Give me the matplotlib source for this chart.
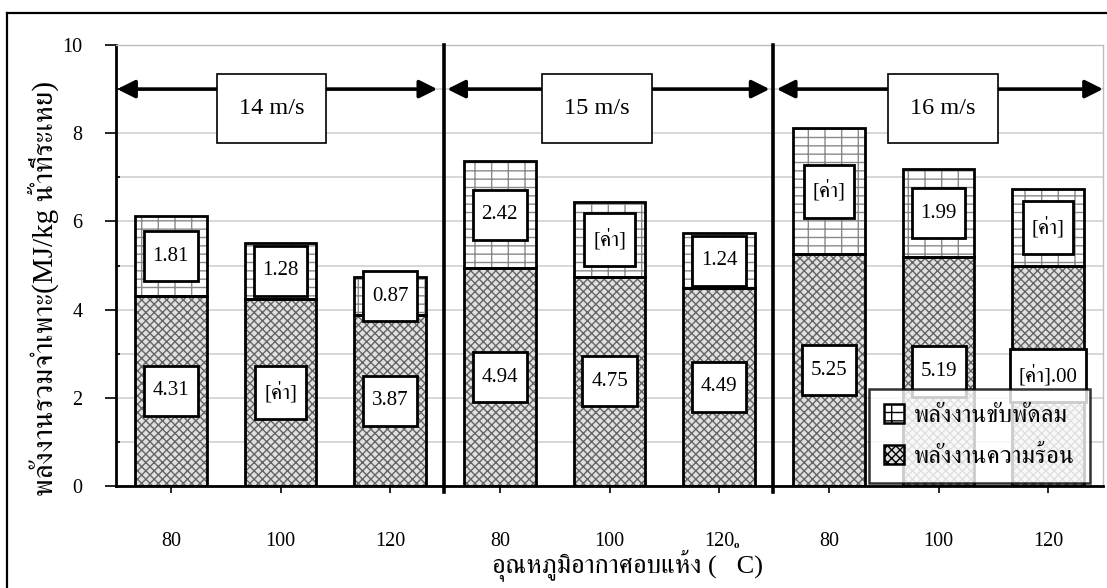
import matplotlib
matplotlib.use("Agg")
import matplotlib.pyplot as plt
from matplotlib.path import Path
from matplotlib.lines import Line2D
from matplotlib.patches import Patch

# ---- data ----
temperatures = ["80", "100", "120", "80", "100", "120", "80", "100", "120"]
speeds = ["14 m/s", "15 m/s", "16 m/s"]
heat_energy = [4.31, 4.24, 3.87, 4.94, 4.75, 4.49, 5.25, 5.19, 5.00]
fan_energy = [1.81, 1.28, 0.87, 2.42, 1.69, 1.24, 2.87, 1.99, 1.73]
heat_labels = ["4.31", "[ค่า]", "3.87", "4.94", "4.75", "4.49", "5.25", "5.19", "[ค่า].00"]
fan_labels = ["1.81", "1.28", "0.87", "2.42", "[ค่า]", "1.24", "[ค่า]", "1.99", "[ค่า]"]
legend_fan = "พลังงานขับพัดลม"
legend_heat = "พลังงานความร้อน"
y_title = "พลังงานรวมจำเพาะ(MJ/kg น้ำที่ระเหย)"
x_title = "อุณหภูมิอากาศอบแห้ง (   C)"

plt.rcParams["font.family"] = ["Liberation Serif", "FreeSerif", "DejaVu Sans"]
plt.rcParams["hatch.linewidth"] = 1.0

fig = plt.figure(figsize=(11.07, 5.88), dpi=100)
ax = fig.add_axes([116 / 1107, 1 - 486 / 588, 987 / 1107, 441 / 588])

x = list(range(len(temperatures)))
w = 0.655
ax.set_xlim(-0.5, 8.5)
ax.set_ylim(0, 10)

# hatched fills (hatch colour follows edge colour) then black outlines on top
heat_style = dict(color="#e0e0e0", edgecolor="#656565", hatch="xxxx", lw=0)
fan_style = dict(color="white", edgecolor="#8a8a8a", hatch="--|", lw=0)
ax.bar(x, heat_energy, w, zorder=2, **heat_style)
ax.bar(x, fan_energy, w, bottom=heat_energy, zorder=2, **fan_style)
ax.bar(x, heat_energy, w, fill=False, edgecolor="black", lw=2.0, zorder=3)
ax.bar(x, fan_energy, w, bottom=heat_energy, fill=False, edgecolor="black", lw=2.0, zorder=3)


def frame(px_frac, py_frac):
    def style(x0, y0, width, height, mutation_size):
        px = px_frac * mutation_size
        py = py_frac * mutation_size
        x0, y0 = x0 - px, y0 - py
        x1, y1 = x0 + width + 2 * px, y0 + height + 2 * py
        return Path([(x0, y0), (x1, y0), (x1, y1), (x0, y1), (x0, y0)], closed=True)
    return style


box = dict(boxstyle=frame(0.42, 0.75), facecolor="white", edgecolor="black", lw=2.0)
for i in x:
    ax.text(i, heat_energy[i] / 2, heat_labels[i], ha="center", va="center",
            fontsize=15, bbox=box, zorder=6)
    ax.text(i, heat_energy[i] + fan_energy[i] / 2, fan_labels[i], ha="center", va="center",
            fontsize=15, bbox=box, zorder=6)

# group separators
for sx in (2.49, 5.49):
    ax.plot([sx, sx], [-0.14, 10], color="black", lw=2.6, clip_on=False, zorder=4)

# speed spans
spans = [(-0.49, 2.43), (2.52, 5.46), (5.525, 8.5)]
box_x = [0.917, 3.885, 7.04]
for (a, b), bx, s in zip(spans, box_x, speeds):
    ax.annotate("", xy=(b, 9), xytext=(a, 9),
                arrowprops=dict(arrowstyle="<|-|>,head_length=0.9,head_width=0.45",
                                lw=2.6, color="black", shrinkA=0, shrinkB=0,
                                mutation_scale=12), zorder=4, annotation_clip=False)
    ax.text(bx, 8.56, s, ha="center", va="center", fontsize=17.5, zorder=7,
            bbox=dict(boxstyle=frame(0.9, 1.0), facecolor="white", edgecolor="black", lw=1.2))

# axes styling
ax.set_yticks(range(0, 11, 2))
ax.set_yticks(range(1, 10, 2), minor=True)
ax.yaxis.grid(True, which="both", color="#d4d4d4", lw=1.3, zorder=0)
ax.set_axisbelow(True)
ax.tick_params(axis="y", which="major", direction="out", length=8, width=1.2,
               labelsize=14.5, pad=16)
ax.tick_params(axis="y", which="minor", direction="in", length=3, width=1.2)
ax.set_xticks(x)
ax.set_xticklabels(temperatures)
ax.tick_params(axis="x", direction="out", length=5, width=1.2, labelsize=14.5, pad=28)
for side in ("left", "bottom"):
    ax.spines[side].set_linewidth(2)
for side in ("top", "right"):
    ax.spines[side].set_color("#bdbdbd")
    ax.spines[side].set_linewidth(1)

handles = [Patch(**fan_style), Patch(**heat_style)]
leg = ax.legend(handles, [legend_fan, legend_heat], loc="lower right",
                bbox_to_anchor=(0.987, 0.007), fontsize=18, frameon=True, fancybox=False,
                edgecolor="black", handlelength=0.8, handleheight=0.8, handletextpad=0.4,
                labelspacing=0.7, borderpad=0.6, borderaxespad=0)
leg.get_frame().set_linewidth(1.8)
for h in leg.legend_handles:
    h.set_edgecolor("black")
    h.set_linewidth(1.8)
leg.set_zorder(8)

fig.text(43 / 1107, 1 - 288 / 588, y_title, rotation=90, ha="center", va="center", fontsize=21)
fig.text(628 / 1107, 1 - 565 / 588, x_title, ha="center", va="center", fontsize=19)
fig.text(736 / 1107, 1 - 545 / 588, "o", ha="center", va="center", fontsize=8, fontweight="bold")

# outer frame
fig.add_artist(Line2D([7 / 1107, 7 / 1107], [0, 1 - 13 / 588], color="black", lw=1.6))
fig.add_artist(Line2D([7 / 1107, 1], [1 - 13 / 588, 1 - 13 / 588], color="black", lw=1.6))

fig.savefig("out.png", dpi=100)
